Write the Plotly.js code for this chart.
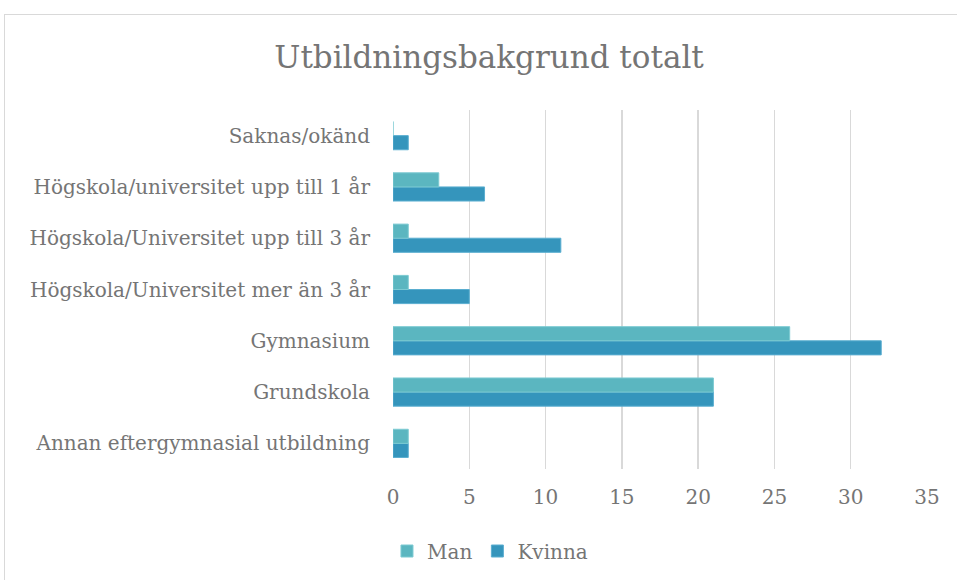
<!DOCTYPE html>
<html>
<head>
<meta charset="utf-8">
<script src="https://cdn.plot.ly/plotly-3.0.1.min.js"></script>
<style>
  html, body { margin: 0; padding: 0; background: #fff; }
  #wrap { position: relative; width: 957px; height: 580px; overflow: hidden; }
  #chart { position: absolute; left: 0; top: 0; width: 957px; height: 580px; }
  #frame { position: absolute; left: 4px; top: 14px; width: 1200px; height: 800px;
           border-left: 1.5px solid #d9d9d9; border-top: 1.5px solid #d9d9d9; pointer-events: none; }
</style>
</head>
<body>
<div id="wrap">
  <div id="chart"></div>
  <div id="frame"></div>
</div>
<script>
const categories = [
  "Annan eftergymnasial utbildning",
  "Grundskola",
  "Gymnasium",
  "Högskola/Universitet mer än 3 år",
  "Högskola/Universitet upp till 3 år",
  "Högskola/universitet upp till 1 år",
  "Saknas/okänd"
];
const man = [1, 21, 26, 1, 1, 3, 0];
const kvinna = [1, 21, 32, 5, 11, 6, 1];
const xTicks = [0, 5, 10, 15, 20, 25, 30, 35];

const fontFam = "DejaVu Serif, serif";
const textColor = "#757575";

const traces = [
  {
    type: "bar", orientation: "h", name: "Kvinna",
    y: categories, x: kvinna,
    marker: { color: "#3595BC", line: { color: "#5aaed0", width: 1 } }
  },
  {
    type: "bar", orientation: "h", name: "Man",
    y: categories, x: man,
    marker: { color: "#5BB6C0", line: { color: "#7ccad2", width: 1 } }
  }
];

const layout = {
  width: 957, height: 580,
  margin: { l: 393, r: 30, t: 110, b: 111 },
  paper_bgcolor: "#ffffff", plot_bgcolor: "#ffffff",
  barmode: "group", bargap: 0.45, bargroupgap: 0,
  font: { family: fontFam, color: textColor, size: 20 },
  title: {
    text: "Utbildningsbakgrund totalt",
    font: { family: fontFam, size: 31, color: textColor },
    xref: "container", x: 0.511, xanchor: "center",
    yref: "container", y: 0.902, yanchor: "middle"
  },
  xaxis: {
    range: [0, 35], tickvals: xTicks, ticktext: xTicks.map(String),
    showgrid: true, gridcolor: "#d9d9d9", gridwidth: 1.5,
    zeroline: false, showline: false, ticks: "",
    ticklabelstandoff: 14,
    tickfont: { family: fontFam, size: 20, color: textColor }
  },
  yaxis: {
    type: "category", categoryorder: "array", categoryarray: categories,
    showgrid: false, zeroline: false, showline: false, ticks: "",
    ticklabelstandoff: 22,
    tickfont: { family: fontFam, size: 20, color: textColor }
  },
  legend: {
    orientation: "h", traceorder: "reversed",
    xref: "container", x: 0.512, xanchor: "center",
    yref: "container", y: 0.05, yanchor: "middle",
    font: { family: fontFam, size: 20, color: textColor },
    itemwidth: 30
  },
  showlegend: true
};

Plotly.newPlot("chart", traces, layout, { displayModeBar: false, staticPlot: true });
</script>
</body>
</html>
